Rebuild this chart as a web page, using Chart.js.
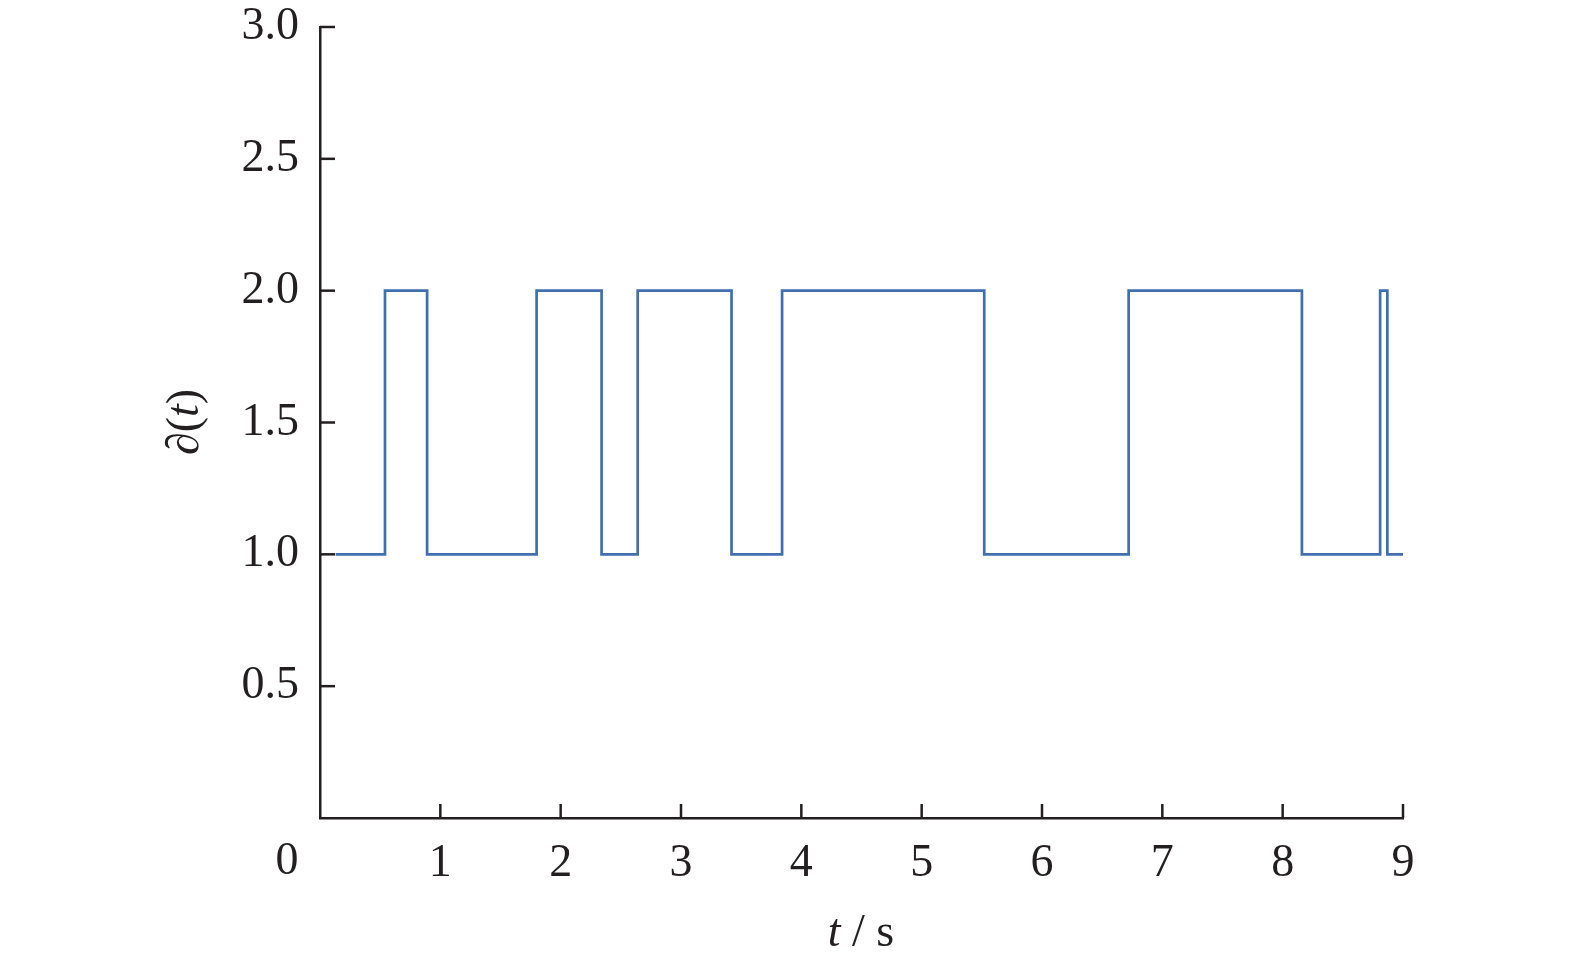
<!DOCTYPE html>
<html>
<head>
<meta charset="utf-8">
<script src="https://cdn.jsdelivr.net/npm/chart.js@4/dist/chart.umd.min.js"></script>
<style>
  html, body { margin: 0; padding: 0; background: #ffffff; }
  #wrap { width: 1575px; height: 965px; }
</style>
</head>
<body>
<div id="wrap"><canvas id="c" width="1575" height="965"></canvas></div>
<script>
// Switching times (s) and the state value that starts at each time
const switchTimes = [0.13, 0.54, 0.89, 1.80, 2.34, 2.64, 3.42, 3.84, 5.52, 6.72, 8.16, 8.81, 8.87, 9.00];
const stateValues = [1, 2, 1, 2, 1, 2, 1, 2, 1, 2, 1, 2, 1, 1];
const xTickValues = [0, 1, 2, 3, 4, 5, 6, 7, 8, 9];
const yTickValues = [0, 0.5, 1.0, 1.5, 2.0, 2.5, 3.0];
const xTitleParts = [["t", "italic"], [" / s", "normal"]];
const yTitleParts = [["\u2202(", "normal"], ["t", "italic"], [")", "normal"]];

const INK = '#231f20';
const LINE = '#416fae';
const FONT = '"Liberation Serif", "Times New Roman", serif';
const FS = 46;

const points = switchTimes.map((t, i) => ({ x: t, y: stateValues[i] }));

function drawParts(ctx, parts, cx, cy) {
  let total = 0;
  const widths = parts.map(([txt, st]) => {
    ctx.font = st + ' ' + FS + 'px ' + FONT;
    const w = ctx.measureText(txt).width;
    total += w;
    return w;
  });
  let x = cx - total / 2;
  parts.forEach(([txt, st], i) => {
    ctx.font = st + ' ' + FS + 'px ' + FONT;
    ctx.fillText(txt, x, cy);
    x += widths[i];
  });
}

const decor = {
  id: 'decor',
  afterDraw(chart) {
    const ctx = chart.ctx;
    const xs = chart.scales.x, ys = chart.scales.y;
    const left = xs.left, bottom = ys.bottom;
    ctx.save();
    ctx.strokeStyle = INK;
    ctx.lineWidth = 2.5;
    // inward y ticks
    yTickValues.forEach(v => {
      if (v === 0) return;
      const py = ys.getPixelForValue(v);
      ctx.beginPath();
      ctx.moveTo(left, py);
      ctx.lineTo(left + 15, py);
      ctx.stroke();
    });
    // inward x ticks
    xTickValues.forEach(v => {
      if (v === 0) return;
      const px = xs.getPixelForValue(v);
      ctx.beginPath();
      ctx.moveTo(px, bottom);
      ctx.lineTo(px, bottom - 14);
      ctx.stroke();
    });
    ctx.fillStyle = INK;
    ctx.textBaseline = 'middle';
    // origin label
    ctx.font = 'normal ' + FS + 'px ' + FONT;
    ctx.textAlign = 'center';
    ctx.fillText('0', xs.getPixelForValue(0) - 33, bottom + 44);
    ctx.textAlign = 'left';
    // x title
    drawParts(ctx, xTitleParts, 861, 934);
    // y title rotated
    ctx.save();
    ctx.translate(186, 422);
    ctx.rotate(-Math.PI / 2);
    drawParts(ctx, yTitleParts, 0, 0);
    ctx.restore();
    ctx.restore();
  }
};

new Chart(document.getElementById('c'), {
  type: 'line',
  data: {
    datasets: [{
      data: points,
      stepped: true,
      borderColor: LINE,
      borderWidth: 2.7,
      pointRadius: 0,
      fill: false
    }]
  },
  options: {
    responsive: false,
    animation: false,
    devicePixelRatio: 1,
    layout: { padding: { top: 27, right: 172, left: 0, bottom: 0 } },
    plugins: { legend: { display: false }, tooltip: { enabled: false } },
    scales: {
      x: {
        type: 'linear',
        min: 0, max: 9,
        afterBuildTicks: s => { s.ticks = xTickValues.map(v => ({ value: v })); },
        afterFit: s => { s.height = 147; s.paddingLeft = 0; s.paddingRight = 0; },
        grid: { display: false },
        border: { display: true, color: INK, width: 2.5 },
        ticks: {
          padding: 10,
          color: INK,
          font: { family: FONT, size: FS },
          maxRotation: 0,
          autoSkip: false,
          callback: v => (v === 0 ? '' : String(v))
        }
      },
      y: {
        type: 'linear',
        min: 0, max: 3,
        afterBuildTicks: s => { s.ticks = yTickValues.map(v => ({ value: v })); },
        afterFit: s => { s.width = 320; s.paddingTop = 0; s.paddingBottom = 0; },
        grid: { display: false },
        border: { display: true, color: INK, width: 2.5 },
        ticks: {
          padding: 13,
          color: INK,
          font: { family: FONT, size: FS },
          autoSkip: false,
          callback: v => (v === 0 ? '' : Number(v).toFixed(1))
        }
      }
    }
  },
  plugins: [decor]
});
</script>
</body>
</html>
